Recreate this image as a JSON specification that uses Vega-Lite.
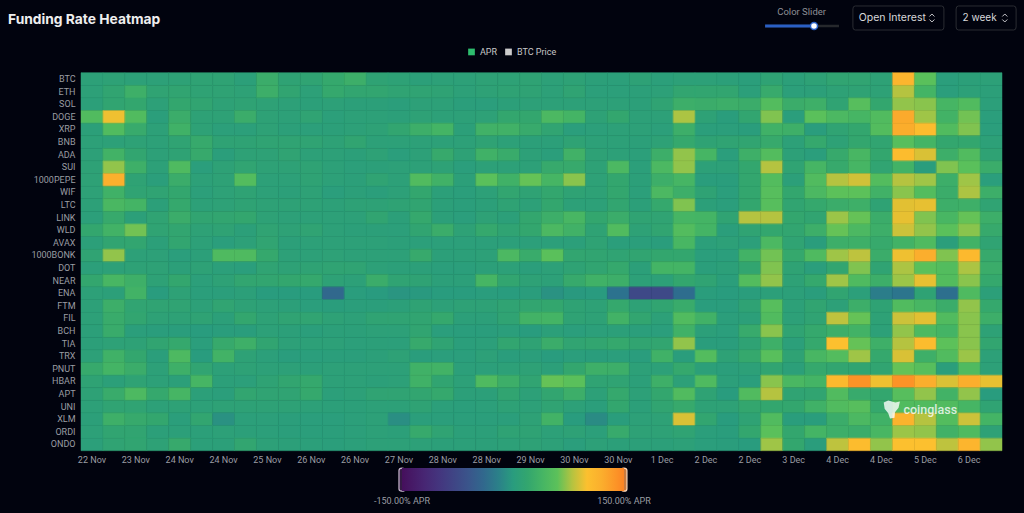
{"$schema":"https://vega.github.io/schema/vega-lite/v6.json","width":921,"height":378,"autosize":{"type":"none"},"padding":{"left":81,"top":72.7,"right":22,"bottom":62.3},"background":"#01030e","title":{"text":"Funding Rate Heatmap","anchor":"start","frame":"group","dx":-73,"offset":-23,"font":"Inter","fontSize":13.8,"fontWeight":700,"color":"#eeeeee"},"config":{"view":{"stroke":null},"font":"Roboto"},
"data":{"values":[
{"t":0,"c":"BTC","v":8},{"t":1,"c":"BTC","v":10},{"t":2,"c":"BTC","v":8},{"t":3,"c":"BTC","v":8},{"t":4,"c":"BTC","v":10},{"t":5,"c":"BTC","v":12},{"t":6,"c":"BTC","v":12},{"t":7,"c":"BTC","v":6},{"t":8,"c":"BTC","v":28},{"t":9,"c":"BTC","v":12},{"t":10,"c":"BTC","v":14},{"t":11,"c":"BTC","v":22},{"t":12,"c":"BTC","v":30},{"t":13,"c":"BTC","v":12},{"t":14,"c":"BTC","v":10},{"t":15,"c":"BTC","v":6},{"t":16,"c":"BTC","v":7},{"t":17,"c":"BTC","v":7},{"t":18,"c":"BTC","v":10},{"t":19,"c":"BTC","v":10},{"t":20,"c":"BTC","v":12},{"t":21,"c":"BTC","v":7},{"t":22,"c":"BTC","v":10},{"t":23,"c":"BTC","v":6},{"t":24,"c":"BTC","v":5},{"t":25,"c":"BTC","v":10},{"t":26,"c":"BTC","v":5},{"t":27,"c":"BTC","v":8},{"t":28,"c":"BTC","v":8},{"t":29,"c":"BTC","v":6},{"t":30,"c":"BTC","v":4},{"t":31,"c":"BTC","v":12},{"t":32,"c":"BTC","v":6},{"t":33,"c":"BTC","v":10},{"t":34,"c":"BTC","v":15},{"t":35,"c":"BTC","v":15},{"t":36,"c":"BTC","v":10},{"t":37,"c":"BTC","v":112},{"t":38,"c":"BTC","v":58},{"t":39,"c":"BTC","v":3},{"t":40,"c":"BTC","v":6},{"t":41,"c":"BTC","v":7},
{"t":0,"c":"ETH","v":7},{"t":1,"c":"ETH","v":16},{"t":2,"c":"ETH","v":32},{"t":3,"c":"ETH","v":14},{"t":4,"c":"ETH","v":16},{"t":5,"c":"ETH","v":12},{"t":6,"c":"ETH","v":12},{"t":7,"c":"ETH","v":10},{"t":8,"c":"ETH","v":30},{"t":9,"c":"ETH","v":16},{"t":10,"c":"ETH","v":8},{"t":11,"c":"ETH","v":22},{"t":12,"c":"ETH","v":18},{"t":13,"c":"ETH","v":18},{"t":14,"c":"ETH","v":14},{"t":15,"c":"ETH","v":14},{"t":16,"c":"ETH","v":12},{"t":17,"c":"ETH","v":8},{"t":18,"c":"ETH","v":10},{"t":19,"c":"ETH","v":12},{"t":20,"c":"ETH","v":12},{"t":21,"c":"ETH","v":7},{"t":22,"c":"ETH","v":14},{"t":23,"c":"ETH","v":5},{"t":24,"c":"ETH","v":5},{"t":25,"c":"ETH","v":6},{"t":26,"c":"ETH","v":8},{"t":27,"c":"ETH","v":17},{"t":28,"c":"ETH","v":18},{"t":29,"c":"ETH","v":18},{"t":30,"c":"ETH","v":5},{"t":31,"c":"ETH","v":25},{"t":32,"c":"ETH","v":5},{"t":33,"c":"ETH","v":6},{"t":34,"c":"ETH","v":10},{"t":35,"c":"ETH","v":12},{"t":36,"c":"ETH","v":10},{"t":37,"c":"ETH","v":80},{"t":38,"c":"ETH","v":38},{"t":39,"c":"ETH","v":3},{"t":40,"c":"ETH","v":8},{"t":41,"c":"ETH","v":6},
{"t":0,"c":"SOL","v":6},{"t":1,"c":"SOL","v":16},{"t":2,"c":"SOL","v":20},{"t":3,"c":"SOL","v":8},{"t":4,"c":"SOL","v":20},{"t":5,"c":"SOL","v":16},{"t":6,"c":"SOL","v":10},{"t":7,"c":"SOL","v":12},{"t":8,"c":"SOL","v":10},{"t":9,"c":"SOL","v":8},{"t":10,"c":"SOL","v":6},{"t":11,"c":"SOL","v":7},{"t":12,"c":"SOL","v":6},{"t":13,"c":"SOL","v":6},{"t":14,"c":"SOL","v":4},{"t":15,"c":"SOL","v":7},{"t":16,"c":"SOL","v":7},{"t":17,"c":"SOL","v":4},{"t":18,"c":"SOL","v":3},{"t":19,"c":"SOL","v":6},{"t":20,"c":"SOL","v":8},{"t":21,"c":"SOL","v":8},{"t":22,"c":"SOL","v":7},{"t":23,"c":"SOL","v":8},{"t":24,"c":"SOL","v":8},{"t":25,"c":"SOL","v":6},{"t":26,"c":"SOL","v":14},{"t":27,"c":"SOL","v":30},{"t":28,"c":"SOL","v":28},{"t":29,"c":"SOL","v":30},{"t":30,"c":"SOL","v":28},{"t":31,"c":"SOL","v":52},{"t":32,"c":"SOL","v":28},{"t":33,"c":"SOL","v":32},{"t":34,"c":"SOL","v":14},{"t":35,"c":"SOL","v":55},{"t":36,"c":"SOL","v":20},{"t":37,"c":"SOL","v":72},{"t":38,"c":"SOL","v":70},{"t":39,"c":"SOL","v":40},{"t":40,"c":"SOL","v":50},{"t":41,"c":"SOL","v":5},
{"t":0,"c":"DOGE","v":50},{"t":1,"c":"DOGE","v":95},{"t":2,"c":"DOGE","v":50},{"t":3,"c":"DOGE","v":4},{"t":4,"c":"DOGE","v":28},{"t":5,"c":"DOGE","v":10},{"t":6,"c":"DOGE","v":10},{"t":7,"c":"DOGE","v":28},{"t":8,"c":"DOGE","v":10},{"t":9,"c":"DOGE","v":8},{"t":10,"c":"DOGE","v":14},{"t":11,"c":"DOGE","v":5},{"t":12,"c":"DOGE","v":8},{"t":13,"c":"DOGE","v":8},{"t":14,"c":"DOGE","v":6},{"t":15,"c":"DOGE","v":10},{"t":16,"c":"DOGE","v":8},{"t":17,"c":"DOGE","v":7},{"t":18,"c":"DOGE","v":9},{"t":19,"c":"DOGE","v":20},{"t":20,"c":"DOGE","v":20},{"t":21,"c":"DOGE","v":45},{"t":22,"c":"DOGE","v":38},{"t":23,"c":"DOGE","v":10},{"t":24,"c":"DOGE","v":20},{"t":25,"c":"DOGE","v":7},{"t":26,"c":"DOGE","v":7},{"t":27,"c":"DOGE","v":78},{"t":28,"c":"DOGE","v":10},{"t":29,"c":"DOGE","v":2},{"t":30,"c":"DOGE","v":18},{"t":31,"c":"DOGE","v":68},{"t":32,"c":"DOGE","v":3},{"t":33,"c":"DOGE","v":58},{"t":34,"c":"DOGE","v":45},{"t":35,"c":"DOGE","v":40},{"t":36,"c":"DOGE","v":50},{"t":37,"c":"DOGE","v":125},{"t":38,"c":"DOGE","v":75},{"t":39,"c":"DOGE","v":36},{"t":40,"c":"DOGE","v":65},{"t":41,"c":"DOGE","v":3},
{"t":0,"c":"XRP","v":6},{"t":1,"c":"XRP","v":50},{"t":2,"c":"XRP","v":25},{"t":3,"c":"XRP","v":7},{"t":4,"c":"XRP","v":34},{"t":5,"c":"XRP","v":10},{"t":6,"c":"XRP","v":5},{"t":7,"c":"XRP","v":5},{"t":8,"c":"XRP","v":10},{"t":9,"c":"XRP","v":6},{"t":10,"c":"XRP","v":5},{"t":11,"c":"XRP","v":6},{"t":12,"c":"XRP","v":8},{"t":13,"c":"XRP","v":10},{"t":14,"c":"XRP","v":18},{"t":15,"c":"XRP","v":30},{"t":16,"c":"XRP","v":38},{"t":17,"c":"XRP","v":6},{"t":18,"c":"XRP","v":35},{"t":19,"c":"XRP","v":35},{"t":20,"c":"XRP","v":25},{"t":21,"c":"XRP","v":15},{"t":22,"c":"XRP","v":3},{"t":23,"c":"XRP","v":5},{"t":24,"c":"XRP","v":7},{"t":25,"c":"XRP","v":7},{"t":26,"c":"XRP","v":5},{"t":27,"c":"XRP","v":30},{"t":28,"c":"XRP","v":4},{"t":29,"c":"XRP","v":4},{"t":30,"c":"XRP","v":2},{"t":31,"c":"XRP","v":34},{"t":32,"c":"XRP","v":32},{"t":33,"c":"XRP","v":1},{"t":34,"c":"XRP","v":14},{"t":35,"c":"XRP","v":20},{"t":36,"c":"XRP","v":52},{"t":37,"c":"XRP","v":122},{"t":38,"c":"XRP","v":105},{"t":39,"c":"XRP","v":50},{"t":40,"c":"XRP","v":68},{"t":41,"c":"XRP","v":3},
{"t":0,"c":"BNB","v":8},{"t":1,"c":"BNB","v":8},{"t":2,"c":"BNB","v":10},{"t":3,"c":"BNB","v":8},{"t":4,"c":"BNB","v":14},{"t":5,"c":"BNB","v":24},{"t":6,"c":"BNB","v":12},{"t":7,"c":"BNB","v":12},{"t":8,"c":"BNB","v":14},{"t":9,"c":"BNB","v":14},{"t":10,"c":"BNB","v":14},{"t":11,"c":"BNB","v":10},{"t":12,"c":"BNB","v":16},{"t":13,"c":"BNB","v":8},{"t":14,"c":"BNB","v":7},{"t":15,"c":"BNB","v":7},{"t":16,"c":"BNB","v":7},{"t":17,"c":"BNB","v":7},{"t":18,"c":"BNB","v":12},{"t":19,"c":"BNB","v":7},{"t":20,"c":"BNB","v":6},{"t":21,"c":"BNB","v":6},{"t":22,"c":"BNB","v":12},{"t":23,"c":"BNB","v":7},{"t":24,"c":"BNB","v":7},{"t":25,"c":"BNB","v":6},{"t":26,"c":"BNB","v":10},{"t":27,"c":"BNB","v":22},{"t":28,"c":"BNB","v":12},{"t":29,"c":"BNB","v":14},{"t":30,"c":"BNB","v":16},{"t":31,"c":"BNB","v":24},{"t":32,"c":"BNB","v":8},{"t":33,"c":"BNB","v":22},{"t":34,"c":"BNB","v":10},{"t":35,"c":"BNB","v":20},{"t":36,"c":"BNB","v":16},{"t":37,"c":"BNB","v":55},{"t":38,"c":"BNB","v":38},{"t":39,"c":"BNB","v":20},{"t":40,"c":"BNB","v":20},{"t":41,"c":"BNB","v":7},
{"t":0,"c":"ADA","v":8},{"t":1,"c":"ADA","v":36},{"t":2,"c":"ADA","v":18},{"t":3,"c":"ADA","v":8},{"t":4,"c":"ADA","v":12},{"t":5,"c":"ADA","v":24},{"t":6,"c":"ADA","v":4},{"t":7,"c":"ADA","v":10},{"t":8,"c":"ADA","v":10},{"t":9,"c":"ADA","v":14},{"t":10,"c":"ADA","v":7},{"t":11,"c":"ADA","v":8},{"t":12,"c":"ADA","v":6},{"t":13,"c":"ADA","v":10},{"t":14,"c":"ADA","v":3},{"t":15,"c":"ADA","v":8},{"t":16,"c":"ADA","v":24},{"t":17,"c":"ADA","v":10},{"t":18,"c":"ADA","v":34},{"t":19,"c":"ADA","v":26},{"t":20,"c":"ADA","v":7},{"t":21,"c":"ADA","v":4},{"t":22,"c":"ADA","v":35},{"t":23,"c":"ADA","v":10},{"t":24,"c":"ADA","v":8},{"t":25,"c":"ADA","v":5},{"t":26,"c":"ADA","v":30},{"t":27,"c":"ADA","v":72},{"t":28,"c":"ADA","v":40},{"t":29,"c":"ADA","v":3},{"t":30,"c":"ADA","v":32},{"t":31,"c":"ADA","v":52},{"t":32,"c":"ADA","v":8},{"t":33,"c":"ADA","v":3},{"t":34,"c":"ADA","v":24},{"t":35,"c":"ADA","v":42},{"t":36,"c":"ADA","v":20},{"t":37,"c":"ADA","v":105},{"t":38,"c":"ADA","v":88},{"t":39,"c":"ADA","v":30},{"t":40,"c":"ADA","v":50},{"t":41,"c":"ADA","v":12},
{"t":0,"c":"SUI","v":10},{"t":1,"c":"SUI","v":72},{"t":2,"c":"SUI","v":32},{"t":3,"c":"SUI","v":8},{"t":4,"c":"SUI","v":48},{"t":5,"c":"SUI","v":3},{"t":6,"c":"SUI","v":10},{"t":7,"c":"SUI","v":15},{"t":8,"c":"SUI","v":10},{"t":9,"c":"SUI","v":10},{"t":10,"c":"SUI","v":12},{"t":11,"c":"SUI","v":8},{"t":12,"c":"SUI","v":5},{"t":13,"c":"SUI","v":6},{"t":14,"c":"SUI","v":7},{"t":15,"c":"SUI","v":8},{"t":16,"c":"SUI","v":10},{"t":17,"c":"SUI","v":3},{"t":18,"c":"SUI","v":7},{"t":19,"c":"SUI","v":7},{"t":20,"c":"SUI","v":7},{"t":21,"c":"SUI","v":24},{"t":22,"c":"SUI","v":24},{"t":23,"c":"SUI","v":10},{"t":24,"c":"SUI","v":45},{"t":25,"c":"SUI","v":5},{"t":26,"c":"SUI","v":45},{"t":27,"c":"SUI","v":72},{"t":28,"c":"SUI","v":7},{"t":29,"c":"SUI","v":7},{"t":30,"c":"SUI","v":20},{"t":31,"c":"SUI","v":80},{"t":32,"c":"SUI","v":14},{"t":33,"c":"SUI","v":40},{"t":34,"c":"SUI","v":24},{"t":35,"c":"SUI","v":40},{"t":36,"c":"SUI","v":15},{"t":37,"c":"SUI","v":36},{"t":38,"c":"SUI","v":1},{"t":39,"c":"SUI","v":68},{"t":40,"c":"SUI","v":58},{"t":41,"c":"SUI","v":28},
{"t":0,"c":"1000PEPE","v":10},{"t":1,"c":"1000PEPE","v":118},{"t":2,"c":"1000PEPE","v":12},{"t":3,"c":"1000PEPE","v":4},{"t":4,"c":"1000PEPE","v":28},{"t":5,"c":"1000PEPE","v":8},{"t":6,"c":"1000PEPE","v":10},{"t":7,"c":"1000PEPE","v":52},{"t":8,"c":"1000PEPE","v":8},{"t":9,"c":"1000PEPE","v":7},{"t":10,"c":"1000PEPE","v":12},{"t":11,"c":"1000PEPE","v":7},{"t":12,"c":"1000PEPE","v":6},{"t":13,"c":"1000PEPE","v":14},{"t":14,"c":"1000PEPE","v":8},{"t":15,"c":"1000PEPE","v":50},{"t":16,"c":"1000PEPE","v":35},{"t":17,"c":"1000PEPE","v":6},{"t":18,"c":"1000PEPE","v":58},{"t":19,"c":"1000PEPE","v":34},{"t":20,"c":"1000PEPE","v":62},{"t":21,"c":"1000PEPE","v":40},{"t":22,"c":"1000PEPE","v":70},{"t":23,"c":"1000PEPE","v":9},{"t":24,"c":"1000PEPE","v":20},{"t":25,"c":"1000PEPE","v":6},{"t":26,"c":"1000PEPE","v":30},{"t":27,"c":"1000PEPE","v":40},{"t":28,"c":"1000PEPE","v":2},{"t":29,"c":"1000PEPE","v":2},{"t":30,"c":"1000PEPE","v":20},{"t":31,"c":"1000PEPE","v":52},{"t":32,"c":"1000PEPE","v":6},{"t":33,"c":"1000PEPE","v":50},{"t":34,"c":"1000PEPE","v":80},{"t":35,"c":"1000PEPE","v":86},{"t":36,"c":"1000PEPE","v":52},{"t":37,"c":"1000PEPE","v":80},{"t":38,"c":"1000PEPE","v":75},{"t":39,"c":"1000PEPE","v":30},{"t":40,"c":"1000PEPE","v":75},{"t":41,"c":"1000PEPE","v":3},
{"t":0,"c":"WIF","v":9},{"t":1,"c":"WIF","v":34},{"t":2,"c":"WIF","v":14},{"t":3,"c":"WIF","v":14},{"t":4,"c":"WIF","v":20},{"t":5,"c":"WIF","v":5},{"t":6,"c":"WIF","v":9},{"t":7,"c":"WIF","v":12},{"t":8,"c":"WIF","v":8},{"t":9,"c":"WIF","v":6},{"t":10,"c":"WIF","v":10},{"t":11,"c":"WIF","v":3},{"t":12,"c":"WIF","v":6},{"t":13,"c":"WIF","v":4},{"t":14,"c":"WIF","v":8},{"t":15,"c":"WIF","v":20},{"t":16,"c":"WIF","v":6},{"t":17,"c":"WIF","v":4},{"t":18,"c":"WIF","v":8},{"t":19,"c":"WIF","v":18},{"t":20,"c":"WIF","v":12},{"t":21,"c":"WIF","v":20},{"t":22,"c":"WIF","v":12},{"t":23,"c":"WIF","v":10},{"t":24,"c":"WIF","v":20},{"t":25,"c":"WIF","v":5},{"t":26,"c":"WIF","v":45},{"t":27,"c":"WIF","v":30},{"t":28,"c":"WIF","v":12},{"t":29,"c":"WIF","v":3},{"t":30,"c":"WIF","v":20},{"t":31,"c":"WIF","v":55},{"t":32,"c":"WIF","v":20},{"t":33,"c":"WIF","v":45},{"t":34,"c":"WIF","v":60},{"t":35,"c":"WIF","v":60},{"t":36,"c":"WIF","v":35},{"t":37,"c":"WIF","v":70},{"t":38,"c":"WIF","v":52},{"t":39,"c":"WIF","v":28},{"t":40,"c":"WIF","v":78},{"t":41,"c":"WIF","v":30},
{"t":0,"c":"LTC","v":8},{"t":1,"c":"LTC","v":44},{"t":2,"c":"LTC","v":38},{"t":3,"c":"LTC","v":6},{"t":4,"c":"LTC","v":22},{"t":5,"c":"LTC","v":8},{"t":6,"c":"LTC","v":9},{"t":7,"c":"LTC","v":12},{"t":8,"c":"LTC","v":10},{"t":9,"c":"LTC","v":10},{"t":10,"c":"LTC","v":10},{"t":11,"c":"LTC","v":8},{"t":12,"c":"LTC","v":10},{"t":13,"c":"LTC","v":10},{"t":14,"c":"LTC","v":12},{"t":15,"c":"LTC","v":16},{"t":16,"c":"LTC","v":6},{"t":17,"c":"LTC","v":4},{"t":18,"c":"LTC","v":6},{"t":19,"c":"LTC","v":12},{"t":20,"c":"LTC","v":8},{"t":21,"c":"LTC","v":20},{"t":22,"c":"LTC","v":8},{"t":23,"c":"LTC","v":7},{"t":24,"c":"LTC","v":18},{"t":25,"c":"LTC","v":6},{"t":26,"c":"LTC","v":22},{"t":27,"c":"LTC","v":68},{"t":28,"c":"LTC","v":6},{"t":29,"c":"LTC","v":3},{"t":30,"c":"LTC","v":20},{"t":31,"c":"LTC","v":55},{"t":32,"c":"LTC","v":16},{"t":33,"c":"LTC","v":22},{"t":34,"c":"LTC","v":28},{"t":35,"c":"LTC","v":32},{"t":36,"c":"LTC","v":12},{"t":37,"c":"LTC","v":90},{"t":38,"c":"LTC","v":92},{"t":39,"c":"LTC","v":30},{"t":40,"c":"LTC","v":32},{"t":41,"c":"LTC","v":14},
{"t":0,"c":"LINK","v":5},{"t":1,"c":"LINK","v":24},{"t":2,"c":"LINK","v":6},{"t":3,"c":"LINK","v":14},{"t":4,"c":"LINK","v":28},{"t":5,"c":"LINK","v":16},{"t":6,"c":"LINK","v":18},{"t":7,"c":"LINK","v":20},{"t":8,"c":"LINK","v":10},{"t":9,"c":"LINK","v":8},{"t":10,"c":"LINK","v":8},{"t":11,"c":"LINK","v":8},{"t":12,"c":"LINK","v":8},{"t":13,"c":"LINK","v":16},{"t":14,"c":"LINK","v":6},{"t":15,"c":"LINK","v":22},{"t":16,"c":"LINK","v":6},{"t":17,"c":"LINK","v":3},{"t":18,"c":"LINK","v":10},{"t":19,"c":"LINK","v":6},{"t":20,"c":"LINK","v":20},{"t":21,"c":"LINK","v":30},{"t":22,"c":"LINK","v":42},{"t":23,"c":"LINK","v":20},{"t":24,"c":"LINK","v":28},{"t":25,"c":"LINK","v":14},{"t":26,"c":"LINK","v":14},{"t":27,"c":"LINK","v":40},{"t":28,"c":"LINK","v":38},{"t":29,"c":"LINK","v":14},{"t":30,"c":"LINK","v":80},{"t":31,"c":"LINK","v":80},{"t":32,"c":"LINK","v":20},{"t":33,"c":"LINK","v":16},{"t":34,"c":"LINK","v":74},{"t":35,"c":"LINK","v":62},{"t":36,"c":"LINK","v":28},{"t":37,"c":"LINK","v":92},{"t":38,"c":"LINK","v":68},{"t":39,"c":"LINK","v":42},{"t":40,"c":"LINK","v":62},{"t":41,"c":"LINK","v":30},
{"t":0,"c":"WLD","v":20},{"t":1,"c":"WLD","v":36},{"t":2,"c":"WLD","v":65},{"t":3,"c":"WLD","v":14},{"t":4,"c":"WLD","v":18},{"t":5,"c":"WLD","v":10},{"t":6,"c":"WLD","v":12},{"t":7,"c":"WLD","v":6},{"t":8,"c":"WLD","v":14},{"t":9,"c":"WLD","v":10},{"t":10,"c":"WLD","v":14},{"t":11,"c":"WLD","v":7},{"t":12,"c":"WLD","v":6},{"t":13,"c":"WLD","v":6},{"t":14,"c":"WLD","v":5},{"t":15,"c":"WLD","v":16},{"t":16,"c":"WLD","v":28},{"t":17,"c":"WLD","v":10},{"t":18,"c":"WLD","v":22},{"t":19,"c":"WLD","v":14},{"t":20,"c":"WLD","v":20},{"t":21,"c":"WLD","v":45},{"t":22,"c":"WLD","v":35},{"t":23,"c":"WLD","v":12},{"t":24,"c":"WLD","v":50},{"t":25,"c":"WLD","v":10},{"t":26,"c":"WLD","v":16},{"t":27,"c":"WLD","v":52},{"t":28,"c":"WLD","v":38},{"t":29,"c":"WLD","v":4},{"t":30,"c":"WLD","v":14},{"t":31,"c":"WLD","v":20},{"t":32,"c":"WLD","v":18},{"t":33,"c":"WLD","v":30},{"t":34,"c":"WLD","v":62},{"t":35,"c":"WLD","v":45},{"t":36,"c":"WLD","v":30},{"t":37,"c":"WLD","v":85},{"t":38,"c":"WLD","v":72},{"t":39,"c":"WLD","v":58},{"t":40,"c":"WLD","v":70},{"t":41,"c":"WLD","v":24},
{"t":0,"c":"AVAX","v":6},{"t":1,"c":"AVAX","v":16},{"t":2,"c":"AVAX","v":18},{"t":3,"c":"AVAX","v":6},{"t":4,"c":"AVAX","v":18},{"t":5,"c":"AVAX","v":7},{"t":6,"c":"AVAX","v":3},{"t":7,"c":"AVAX","v":7},{"t":8,"c":"AVAX","v":15},{"t":9,"c":"AVAX","v":6},{"t":10,"c":"AVAX","v":8},{"t":11,"c":"AVAX","v":8},{"t":12,"c":"AVAX","v":8},{"t":13,"c":"AVAX","v":7},{"t":14,"c":"AVAX","v":6},{"t":15,"c":"AVAX","v":5},{"t":16,"c":"AVAX","v":5},{"t":17,"c":"AVAX","v":5},{"t":18,"c":"AVAX","v":5},{"t":19,"c":"AVAX","v":5},{"t":20,"c":"AVAX","v":5},{"t":21,"c":"AVAX","v":5},{"t":22,"c":"AVAX","v":5},{"t":23,"c":"AVAX","v":12},{"t":24,"c":"AVAX","v":4},{"t":25,"c":"AVAX","v":4},{"t":26,"c":"AVAX","v":2},{"t":27,"c":"AVAX","v":42},{"t":28,"c":"AVAX","v":5},{"t":29,"c":"AVAX","v":8},{"t":30,"c":"AVAX","v":5},{"t":31,"c":"AVAX","v":45},{"t":32,"c":"AVAX","v":14},{"t":33,"c":"AVAX","v":2},{"t":34,"c":"AVAX","v":30},{"t":35,"c":"AVAX","v":32},{"t":36,"c":"AVAX","v":24},{"t":37,"c":"AVAX","v":36},{"t":38,"c":"AVAX","v":48},{"t":39,"c":"AVAX","v":4},{"t":40,"c":"AVAX","v":36},{"t":41,"c":"AVAX","v":14},
{"t":0,"c":"1000BONK","v":14},{"t":1,"c":"1000BONK","v":72},{"t":2,"c":"1000BONK","v":7},{"t":3,"c":"1000BONK","v":7},{"t":4,"c":"1000BONK","v":3},{"t":5,"c":"1000BONK","v":6},{"t":6,"c":"1000BONK","v":48},{"t":7,"c":"1000BONK","v":48},{"t":8,"c":"1000BONK","v":22},{"t":9,"c":"1000BONK","v":8},{"t":10,"c":"1000BONK","v":8},{"t":11,"c":"1000BONK","v":9},{"t":12,"c":"1000BONK","v":8},{"t":13,"c":"1000BONK","v":7},{"t":14,"c":"1000BONK","v":8},{"t":15,"c":"1000BONK","v":24},{"t":16,"c":"1000BONK","v":6},{"t":17,"c":"1000BONK","v":6},{"t":18,"c":"1000BONK","v":8},{"t":19,"c":"1000BONK","v":45},{"t":20,"c":"1000BONK","v":26},{"t":21,"c":"1000BONK","v":58},{"t":22,"c":"1000BONK","v":18},{"t":23,"c":"1000BONK","v":16},{"t":24,"c":"1000BONK","v":14},{"t":25,"c":"1000BONK","v":16},{"t":26,"c":"1000BONK","v":20},{"t":27,"c":"1000BONK","v":20},{"t":28,"c":"1000BONK","v":3},{"t":29,"c":"1000BONK","v":3},{"t":30,"c":"1000BONK","v":36},{"t":31,"c":"1000BONK","v":65},{"t":32,"c":"1000BONK","v":22},{"t":33,"c":"1000BONK","v":48},{"t":34,"c":"1000BONK","v":75},{"t":35,"c":"1000BONK","v":82},{"t":36,"c":"1000BONK","v":28},{"t":37,"c":"1000BONK","v":95},{"t":38,"c":"1000BONK","v":120},{"t":39,"c":"1000BONK","v":68},{"t":40,"c":"1000BONK","v":108},{"t":41,"c":"1000BONK","v":24},
{"t":0,"c":"DOT","v":5},{"t":1,"c":"DOT","v":8},{"t":2,"c":"DOT","v":10},{"t":3,"c":"DOT","v":10},{"t":4,"c":"DOT","v":6},{"t":5,"c":"DOT","v":10},{"t":6,"c":"DOT","v":5},{"t":7,"c":"DOT","v":3},{"t":8,"c":"DOT","v":14},{"t":9,"c":"DOT","v":10},{"t":10,"c":"DOT","v":12},{"t":11,"c":"DOT","v":14},{"t":12,"c":"DOT","v":14},{"t":13,"c":"DOT","v":8},{"t":14,"c":"DOT","v":6},{"t":15,"c":"DOT","v":6},{"t":16,"c":"DOT","v":4},{"t":17,"c":"DOT","v":4},{"t":18,"c":"DOT","v":6},{"t":19,"c":"DOT","v":8},{"t":20,"c":"DOT","v":4},{"t":21,"c":"DOT","v":8},{"t":22,"c":"DOT","v":12},{"t":23,"c":"DOT","v":16},{"t":24,"c":"DOT","v":22},{"t":25,"c":"DOT","v":6},{"t":26,"c":"DOT","v":38},{"t":27,"c":"DOT","v":38},{"t":28,"c":"DOT","v":4},{"t":29,"c":"DOT","v":6},{"t":30,"c":"DOT","v":18},{"t":31,"c":"DOT","v":68},{"t":32,"c":"DOT","v":12},{"t":33,"c":"DOT","v":3},{"t":34,"c":"DOT","v":18},{"t":35,"c":"DOT","v":68},{"t":36,"c":"DOT","v":14},{"t":37,"c":"DOT","v":78},{"t":38,"c":"DOT","v":58},{"t":39,"c":"DOT","v":52},{"t":40,"c":"DOT","v":78},{"t":41,"c":"DOT","v":28},
{"t":0,"c":"NEAR","v":20},{"t":1,"c":"NEAR","v":42},{"t":2,"c":"NEAR","v":32},{"t":3,"c":"NEAR","v":10},{"t":4,"c":"NEAR","v":20},{"t":5,"c":"NEAR","v":5},{"t":6,"c":"NEAR","v":10},{"t":7,"c":"NEAR","v":18},{"t":8,"c":"NEAR","v":18},{"t":9,"c":"NEAR","v":20},{"t":10,"c":"NEAR","v":22},{"t":11,"c":"NEAR","v":10},{"t":12,"c":"NEAR","v":8},{"t":13,"c":"NEAR","v":28},{"t":14,"c":"NEAR","v":14},{"t":15,"c":"NEAR","v":12},{"t":16,"c":"NEAR","v":6},{"t":17,"c":"NEAR","v":6},{"t":18,"c":"NEAR","v":40},{"t":19,"c":"NEAR","v":18},{"t":20,"c":"NEAR","v":10},{"t":21,"c":"NEAR","v":8},{"t":22,"c":"NEAR","v":24},{"t":23,"c":"NEAR","v":34},{"t":24,"c":"NEAR","v":30},{"t":25,"c":"NEAR","v":8},{"t":26,"c":"NEAR","v":8},{"t":27,"c":"NEAR","v":20},{"t":28,"c":"NEAR","v":14},{"t":29,"c":"NEAR","v":4},{"t":30,"c":"NEAR","v":52},{"t":31,"c":"NEAR","v":72},{"t":32,"c":"NEAR","v":10},{"t":33,"c":"NEAR","v":22},{"t":34,"c":"NEAR","v":75},{"t":35,"c":"NEAR","v":48},{"t":36,"c":"NEAR","v":30},{"t":37,"c":"NEAR","v":74},{"t":38,"c":"NEAR","v":92},{"t":39,"c":"NEAR","v":52},{"t":40,"c":"NEAR","v":70},{"t":41,"c":"NEAR","v":22},
{"t":0,"c":"ENA","v":8},{"t":1,"c":"ENA","v":6},{"t":2,"c":"ENA","v":36},{"t":3,"c":"ENA","v":0},{"t":4,"c":"ENA","v":10},{"t":5,"c":"ENA","v":4},{"t":6,"c":"ENA","v":4},{"t":7,"c":"ENA","v":6},{"t":8,"c":"ENA","v":0},{"t":9,"c":"ENA","v":0},{"t":10,"c":"ENA","v":0},{"t":11,"c":"ENA","v":-40},{"t":12,"c":"ENA","v":1},{"t":13,"c":"ENA","v":-1},{"t":14,"c":"ENA","v":-5},{"t":15,"c":"ENA","v":-2},{"t":16,"c":"ENA","v":0},{"t":17,"c":"ENA","v":0},{"t":18,"c":"ENA","v":1},{"t":19,"c":"ENA","v":0},{"t":20,"c":"ENA","v":2},{"t":21,"c":"ENA","v":-7},{"t":22,"c":"ENA","v":-2},{"t":23,"c":"ENA","v":-1},{"t":24,"c":"ENA","v":-30},{"t":25,"c":"ENA","v":-75},{"t":26,"c":"ENA","v":-75},{"t":27,"c":"ENA","v":-35},{"t":28,"c":"ENA","v":2},{"t":29,"c":"ENA","v":0},{"t":30,"c":"ENA","v":2},{"t":31,"c":"ENA","v":6},{"t":32,"c":"ENA","v":6},{"t":33,"c":"ENA","v":2},{"t":34,"c":"ENA","v":16},{"t":35,"c":"ENA","v":5},{"t":36,"c":"ENA","v":-22},{"t":37,"c":"ENA","v":-28},{"t":38,"c":"ENA","v":12},{"t":39,"c":"ENA","v":-33},{"t":40,"c":"ENA","v":48},{"t":41,"c":"ENA","v":6},
{"t":0,"c":"FTM","v":7},{"t":1,"c":"FTM","v":30},{"t":2,"c":"FTM","v":15},{"t":3,"c":"FTM","v":14},{"t":4,"c":"FTM","v":14},{"t":5,"c":"FTM","v":8},{"t":6,"c":"FTM","v":15},{"t":7,"c":"FTM","v":10},{"t":8,"c":"FTM","v":8},{"t":9,"c":"FTM","v":6},{"t":10,"c":"FTM","v":3},{"t":11,"c":"FTM","v":2},{"t":12,"c":"FTM","v":4},{"t":13,"c":"FTM","v":4},{"t":14,"c":"FTM","v":6},{"t":15,"c":"FTM","v":12},{"t":16,"c":"FTM","v":8},{"t":17,"c":"FTM","v":10},{"t":18,"c":"FTM","v":10},{"t":19,"c":"FTM","v":14},{"t":20,"c":"FTM","v":18},{"t":21,"c":"FTM","v":20},{"t":22,"c":"FTM","v":12},{"t":23,"c":"FTM","v":10},{"t":24,"c":"FTM","v":22},{"t":25,"c":"FTM","v":10},{"t":26,"c":"FTM","v":16},{"t":27,"c":"FTM","v":26},{"t":28,"c":"FTM","v":1},{"t":29,"c":"FTM","v":1},{"t":30,"c":"FTM","v":12},{"t":31,"c":"FTM","v":55},{"t":32,"c":"FTM","v":8},{"t":33,"c":"FTM","v":16},{"t":34,"c":"FTM","v":8},{"t":35,"c":"FTM","v":30},{"t":36,"c":"FTM","v":12},{"t":37,"c":"FTM","v":50},{"t":38,"c":"FTM","v":42},{"t":39,"c":"FTM","v":28},{"t":40,"c":"FTM","v":72},{"t":41,"c":"FTM","v":22},
{"t":0,"c":"FIL","v":7},{"t":1,"c":"FIL","v":26},{"t":2,"c":"FIL","v":18},{"t":3,"c":"FIL","v":10},{"t":4,"c":"FIL","v":10},{"t":5,"c":"FIL","v":12},{"t":6,"c":"FIL","v":6},{"t":7,"c":"FIL","v":20},{"t":8,"c":"FIL","v":10},{"t":9,"c":"FIL","v":14},{"t":10,"c":"FIL","v":15},{"t":11,"c":"FIL","v":10},{"t":12,"c":"FIL","v":8},{"t":13,"c":"FIL","v":14},{"t":14,"c":"FIL","v":14},{"t":15,"c":"FIL","v":16},{"t":16,"c":"FIL","v":22},{"t":17,"c":"FIL","v":6},{"t":18,"c":"FIL","v":6},{"t":19,"c":"FIL","v":14},{"t":20,"c":"FIL","v":36},{"t":21,"c":"FIL","v":38},{"t":22,"c":"FIL","v":12},{"t":23,"c":"FIL","v":10},{"t":24,"c":"FIL","v":36},{"t":25,"c":"FIL","v":18},{"t":26,"c":"FIL","v":8},{"t":27,"c":"FIL","v":50},{"t":28,"c":"FIL","v":35},{"t":29,"c":"FIL","v":4},{"t":30,"c":"FIL","v":6},{"t":31,"c":"FIL","v":50},{"t":32,"c":"FIL","v":8},{"t":33,"c":"FIL","v":14},{"t":34,"c":"FIL","v":82},{"t":35,"c":"FIL","v":62},{"t":36,"c":"FIL","v":10},{"t":37,"c":"FIL","v":85},{"t":38,"c":"FIL","v":90},{"t":39,"c":"FIL","v":50},{"t":40,"c":"FIL","v":70},{"t":41,"c":"FIL","v":30},
{"t":0,"c":"BCH","v":6},{"t":1,"c":"BCH","v":26},{"t":2,"c":"BCH","v":4},{"t":3,"c":"BCH","v":2},{"t":4,"c":"BCH","v":2},{"t":5,"c":"BCH","v":0},{"t":6,"c":"BCH","v":2},{"t":7,"c":"BCH","v":2},{"t":8,"c":"BCH","v":8},{"t":9,"c":"BCH","v":6},{"t":10,"c":"BCH","v":4},{"t":11,"c":"BCH","v":6},{"t":12,"c":"BCH","v":6},{"t":13,"c":"BCH","v":8},{"t":14,"c":"BCH","v":8},{"t":15,"c":"BCH","v":16},{"t":16,"c":"BCH","v":3},{"t":17,"c":"BCH","v":2},{"t":18,"c":"BCH","v":2},{"t":19,"c":"BCH","v":4},{"t":20,"c":"BCH","v":0},{"t":21,"c":"BCH","v":6},{"t":22,"c":"BCH","v":3},{"t":23,"c":"BCH","v":5},{"t":24,"c":"BCH","v":6},{"t":25,"c":"BCH","v":4},{"t":26,"c":"BCH","v":3},{"t":27,"c":"BCH","v":34},{"t":28,"c":"BCH","v":6},{"t":29,"c":"BCH","v":3},{"t":30,"c":"BCH","v":25},{"t":31,"c":"BCH","v":70},{"t":32,"c":"BCH","v":14},{"t":33,"c":"BCH","v":22},{"t":34,"c":"BCH","v":30},{"t":35,"c":"BCH","v":36},{"t":36,"c":"BCH","v":8},{"t":37,"c":"BCH","v":72},{"t":38,"c":"BCH","v":46},{"t":39,"c":"BCH","v":38},{"t":40,"c":"BCH","v":70},{"t":41,"c":"BCH","v":10},
{"t":0,"c":"TIA","v":6},{"t":1,"c":"TIA","v":9},{"t":2,"c":"TIA","v":10},{"t":3,"c":"TIA","v":16},{"t":4,"c":"TIA","v":22},{"t":5,"c":"TIA","v":3},{"t":6,"c":"TIA","v":24},{"t":7,"c":"TIA","v":32},{"t":8,"c":"TIA","v":16},{"t":9,"c":"TIA","v":7},{"t":10,"c":"TIA","v":8},{"t":11,"c":"TIA","v":8},{"t":12,"c":"TIA","v":5},{"t":13,"c":"TIA","v":6},{"t":14,"c":"TIA","v":5},{"t":15,"c":"TIA","v":24},{"t":16,"c":"TIA","v":14},{"t":17,"c":"TIA","v":4},{"t":18,"c":"TIA","v":5},{"t":19,"c":"TIA","v":18},{"t":20,"c":"TIA","v":12},{"t":21,"c":"TIA","v":28},{"t":22,"c":"TIA","v":15},{"t":23,"c":"TIA","v":18},{"t":24,"c":"TIA","v":22},{"t":25,"c":"TIA","v":16},{"t":26,"c":"TIA","v":18},{"t":27,"c":"TIA","v":72},{"t":28,"c":"TIA","v":2},{"t":29,"c":"TIA","v":2},{"t":30,"c":"TIA","v":12},{"t":31,"c":"TIA","v":32},{"t":32,"c":"TIA","v":5},{"t":33,"c":"TIA","v":22},{"t":34,"c":"TIA","v":100},{"t":35,"c":"TIA","v":62},{"t":36,"c":"TIA","v":32},{"t":37,"c":"TIA","v":80},{"t":38,"c":"TIA","v":105},{"t":39,"c":"TIA","v":60},{"t":40,"c":"TIA","v":70},{"t":41,"c":"TIA","v":18},
{"t":0,"c":"TRX","v":7},{"t":1,"c":"TRX","v":34},{"t":2,"c":"TRX","v":20},{"t":3,"c":"TRX","v":4},{"t":4,"c":"TRX","v":46},{"t":5,"c":"TRX","v":0},{"t":6,"c":"TRX","v":36},{"t":7,"c":"TRX","v":10},{"t":8,"c":"TRX","v":5},{"t":9,"c":"TRX","v":1},{"t":10,"c":"TRX","v":3},{"t":11,"c":"TRX","v":4},{"t":12,"c":"TRX","v":4},{"t":13,"c":"TRX","v":6},{"t":14,"c":"TRX","v":10},{"t":15,"c":"TRX","v":2},{"t":16,"c":"TRX","v":3},{"t":17,"c":"TRX","v":3},{"t":18,"c":"TRX","v":8},{"t":19,"c":"TRX","v":2},{"t":20,"c":"TRX","v":4},{"t":21,"c":"TRX","v":0},{"t":22,"c":"TRX","v":3},{"t":23,"c":"TRX","v":2},{"t":24,"c":"TRX","v":3},{"t":25,"c":"TRX","v":1},{"t":26,"c":"TRX","v":34},{"t":27,"c":"TRX","v":2},{"t":28,"c":"TRX","v":52},{"t":29,"c":"TRX","v":10},{"t":30,"c":"TRX","v":22},{"t":31,"c":"TRX","v":56},{"t":32,"c":"TRX","v":12},{"t":33,"c":"TRX","v":42},{"t":34,"c":"TRX","v":52},{"t":35,"c":"TRX","v":75},{"t":36,"c":"TRX","v":22},{"t":37,"c":"TRX","v":88},{"t":38,"c":"TRX","v":32},{"t":39,"c":"TRX","v":50},{"t":40,"c":"TRX","v":74},{"t":41,"c":"TRX","v":8},
{"t":0,"c":"PNUT","v":24},{"t":1,"c":"PNUT","v":38},{"t":2,"c":"PNUT","v":28},{"t":3,"c":"PNUT","v":8},{"t":4,"c":"PNUT","v":32},{"t":5,"c":"PNUT","v":15},{"t":6,"c":"PNUT","v":8},{"t":7,"c":"PNUT","v":10},{"t":8,"c":"PNUT","v":8},{"t":9,"c":"PNUT","v":8},{"t":10,"c":"PNUT","v":6},{"t":11,"c":"PNUT","v":8},{"t":12,"c":"PNUT","v":8},{"t":13,"c":"PNUT","v":8},{"t":14,"c":"PNUT","v":8},{"t":15,"c":"PNUT","v":34},{"t":16,"c":"PNUT","v":36},{"t":17,"c":"PNUT","v":5},{"t":18,"c":"PNUT","v":5},{"t":19,"c":"PNUT","v":8},{"t":20,"c":"PNUT","v":10},{"t":21,"c":"PNUT","v":6},{"t":22,"c":"PNUT","v":20},{"t":23,"c":"PNUT","v":32},{"t":24,"c":"PNUT","v":30},{"t":25,"c":"PNUT","v":8},{"t":26,"c":"PNUT","v":8},{"t":27,"c":"PNUT","v":22},{"t":28,"c":"PNUT","v":6},{"t":29,"c":"PNUT","v":4},{"t":30,"c":"PNUT","v":8},{"t":31,"c":"PNUT","v":16},{"t":32,"c":"PNUT","v":6},{"t":33,"c":"PNUT","v":22},{"t":34,"c":"PNUT","v":18},{"t":35,"c":"PNUT","v":16},{"t":36,"c":"PNUT","v":16},{"t":37,"c":"PNUT","v":62},{"t":38,"c":"PNUT","v":55},{"t":39,"c":"PNUT","v":4},{"t":40,"c":"PNUT","v":48},{"t":41,"c":"PNUT","v":8},
{"t":0,"c":"HBAR","v":12},{"t":1,"c":"HBAR","v":6},{"t":2,"c":"HBAR","v":12},{"t":3,"c":"HBAR","v":8},{"t":4,"c":"HBAR","v":6},{"t":5,"c":"HBAR","v":40},{"t":6,"c":"HBAR","v":6},{"t":7,"c":"HBAR","v":5},{"t":8,"c":"HBAR","v":12},{"t":9,"c":"HBAR","v":18},{"t":10,"c":"HBAR","v":22},{"t":11,"c":"HBAR","v":8},{"t":12,"c":"HBAR","v":8},{"t":13,"c":"HBAR","v":6},{"t":14,"c":"HBAR","v":7},{"t":15,"c":"HBAR","v":34},{"t":16,"c":"HBAR","v":16},{"t":17,"c":"HBAR","v":8},{"t":18,"c":"HBAR","v":48},{"t":19,"c":"HBAR","v":30},{"t":20,"c":"HBAR","v":15},{"t":21,"c":"HBAR","v":62},{"t":22,"c":"HBAR","v":58},{"t":23,"c":"HBAR","v":14},{"t":24,"c":"HBAR","v":14},{"t":25,"c":"HBAR","v":6},{"t":26,"c":"HBAR","v":32},{"t":27,"c":"HBAR","v":8},{"t":28,"c":"HBAR","v":48},{"t":29,"c":"HBAR","v":5},{"t":30,"c":"HBAR","v":3},{"t":31,"c":"HBAR","v":70},{"t":32,"c":"HBAR","v":44},{"t":33,"c":"HBAR","v":38},{"t":34,"c":"HBAR","v":108},{"t":35,"c":"HBAR","v":140},{"t":36,"c":"HBAR","v":95},{"t":37,"c":"HBAR","v":140},{"t":38,"c":"HBAR","v":120},{"t":39,"c":"HBAR","v":88},{"t":40,"c":"HBAR","v":120},{"t":41,"c":"HBAR","v":92},
{"t":0,"c":"APT","v":10},{"t":1,"c":"APT","v":26},{"t":2,"c":"APT","v":46},{"t":3,"c":"APT","v":22},{"t":4,"c":"APT","v":40},{"t":5,"c":"APT","v":6},{"t":6,"c":"APT","v":4},{"t":7,"c":"APT","v":18},{"t":8,"c":"APT","v":14},{"t":9,"c":"APT","v":14},{"t":10,"c":"APT","v":22},{"t":11,"c":"APT","v":5},{"t":12,"c":"APT","v":8},{"t":13,"c":"APT","v":14},{"t":14,"c":"APT","v":14},{"t":15,"c":"APT","v":18},{"t":16,"c":"APT","v":22},{"t":17,"c":"APT","v":6},{"t":18,"c":"APT","v":6},{"t":19,"c":"APT","v":16},{"t":20,"c":"APT","v":8},{"t":21,"c":"APT","v":18},{"t":22,"c":"APT","v":30},{"t":23,"c":"APT","v":8},{"t":24,"c":"APT","v":22},{"t":25,"c":"APT","v":8},{"t":26,"c":"APT","v":20},{"t":27,"c":"APT","v":50},{"t":28,"c":"APT","v":12},{"t":29,"c":"APT","v":0},{"t":30,"c":"APT","v":50},{"t":31,"c":"APT","v":80},{"t":32,"c":"APT","v":14},{"t":33,"c":"APT","v":16},{"t":34,"c":"APT","v":50},{"t":35,"c":"APT","v":25},{"t":36,"c":"APT","v":20},{"t":37,"c":"APT","v":55},{"t":38,"c":"APT","v":72},{"t":39,"c":"APT","v":36},{"t":40,"c":"APT","v":72},{"t":41,"c":"APT","v":0},
{"t":0,"c":"UNI","v":8},{"t":1,"c":"UNI","v":14},{"t":2,"c":"UNI","v":14},{"t":3,"c":"UNI","v":8},{"t":4,"c":"UNI","v":10},{"t":5,"c":"UNI","v":8},{"t":6,"c":"UNI","v":10},{"t":7,"c":"UNI","v":10},{"t":8,"c":"UNI","v":10},{"t":9,"c":"UNI","v":10},{"t":10,"c":"UNI","v":8},{"t":11,"c":"UNI","v":6},{"t":12,"c":"UNI","v":6},{"t":13,"c":"UNI","v":8},{"t":14,"c":"UNI","v":8},{"t":15,"c":"UNI","v":12},{"t":16,"c":"UNI","v":5},{"t":17,"c":"UNI","v":4},{"t":18,"c":"UNI","v":5},{"t":19,"c":"UNI","v":10},{"t":20,"c":"UNI","v":8},{"t":21,"c":"UNI","v":14},{"t":22,"c":"UNI","v":8},{"t":23,"c":"UNI","v":4},{"t":24,"c":"UNI","v":20},{"t":25,"c":"UNI","v":6},{"t":26,"c":"UNI","v":16},{"t":27,"c":"UNI","v":24},{"t":28,"c":"UNI","v":10},{"t":29,"c":"UNI","v":10},{"t":30,"c":"UNI","v":20},{"t":31,"c":"UNI","v":20},{"t":32,"c":"UNI","v":20},{"t":33,"c":"UNI","v":34},{"t":34,"c":"UNI","v":50},{"t":35,"c":"UNI","v":55},{"t":36,"c":"UNI","v":22},{"t":37,"c":"UNI","v":50},{"t":38,"c":"UNI","v":50},{"t":39,"c":"UNI","v":50},{"t":40,"c":"UNI","v":40},{"t":41,"c":"UNI","v":14},
{"t":0,"c":"XLM","v":6},{"t":1,"c":"XLM","v":32},{"t":2,"c":"XLM","v":24},{"t":3,"c":"XLM","v":20},{"t":4,"c":"XLM","v":4},{"t":5,"c":"XLM","v":18},{"t":6,"c":"XLM","v":-8},{"t":7,"c":"XLM","v":5},{"t":8,"c":"XLM","v":5},{"t":9,"c":"XLM","v":4},{"t":10,"c":"XLM","v":3},{"t":11,"c":"XLM","v":3},{"t":12,"c":"XLM","v":5},{"t":13,"c":"XLM","v":8},{"t":14,"c":"XLM","v":-10},{"t":15,"c":"XLM","v":4},{"t":16,"c":"XLM","v":4},{"t":17,"c":"XLM","v":4},{"t":18,"c":"XLM","v":4},{"t":19,"c":"XLM","v":4},{"t":20,"c":"XLM","v":10},{"t":21,"c":"XLM","v":36},{"t":22,"c":"XLM","v":0},{"t":23,"c":"XLM","v":-12},{"t":24,"c":"XLM","v":2},{"t":25,"c":"XLM","v":8},{"t":26,"c":"XLM","v":10},{"t":27,"c":"XLM","v":88},{"t":28,"c":"XLM","v":18},{"t":29,"c":"XLM","v":0},{"t":30,"c":"XLM","v":12},{"t":31,"c":"XLM","v":50},{"t":32,"c":"XLM","v":2},{"t":33,"c":"XLM","v":2},{"t":34,"c":"XLM","v":28},{"t":35,"c":"XLM","v":45},{"t":36,"c":"XLM","v":34},{"t":37,"c":"XLM","v":115},{"t":38,"c":"XLM","v":80},{"t":39,"c":"XLM","v":52},{"t":40,"c":"XLM","v":85},{"t":41,"c":"XLM","v":38},
{"t":0,"c":"ORDI","v":8},{"t":1,"c":"ORDI","v":16},{"t":2,"c":"ORDI","v":16},{"t":3,"c":"ORDI","v":6},{"t":4,"c":"ORDI","v":6},{"t":5,"c":"ORDI","v":6},{"t":6,"c":"ORDI","v":8},{"t":7,"c":"ORDI","v":6},{"t":8,"c":"ORDI","v":5},{"t":9,"c":"ORDI","v":4},{"t":10,"c":"ORDI","v":4},{"t":11,"c":"ORDI","v":4},{"t":12,"c":"ORDI","v":5},{"t":13,"c":"ORDI","v":8},{"t":14,"c":"ORDI","v":6},{"t":15,"c":"ORDI","v":24},{"t":16,"c":"ORDI","v":14},{"t":17,"c":"ORDI","v":6},{"t":18,"c":"ORDI","v":6},{"t":19,"c":"ORDI","v":12},{"t":20,"c":"ORDI","v":12},{"t":21,"c":"ORDI","v":8},{"t":22,"c":"ORDI","v":10},{"t":23,"c":"ORDI","v":5},{"t":24,"c":"ORDI","v":25},{"t":25,"c":"ORDI","v":10},{"t":26,"c":"ORDI","v":10},{"t":27,"c":"ORDI","v":14},{"t":28,"c":"ORDI","v":4},{"t":29,"c":"ORDI","v":2},{"t":30,"c":"ORDI","v":20},{"t":31,"c":"ORDI","v":58},{"t":32,"c":"ORDI","v":20},{"t":33,"c":"ORDI","v":38},{"t":34,"c":"ORDI","v":30},{"t":35,"c":"ORDI","v":28},{"t":36,"c":"ORDI","v":42},{"t":37,"c":"ORDI","v":74},{"t":38,"c":"ORDI","v":72},{"t":39,"c":"ORDI","v":35},{"t":40,"c":"ORDI","v":48},{"t":41,"c":"ORDI","v":10},
{"t":0,"c":"ONDO","v":5},{"t":1,"c":"ONDO","v":14},{"t":2,"c":"ONDO","v":16},{"t":3,"c":"ONDO","v":10},{"t":4,"c":"ONDO","v":24},{"t":5,"c":"ONDO","v":6},{"t":6,"c":"ONDO","v":6},{"t":7,"c":"ONDO","v":18},{"t":8,"c":"ONDO","v":8},{"t":9,"c":"ONDO","v":6},{"t":10,"c":"ONDO","v":5},{"t":11,"c":"ONDO","v":4},{"t":12,"c":"ONDO","v":5},{"t":13,"c":"ONDO","v":7},{"t":14,"c":"ONDO","v":8},{"t":15,"c":"ONDO","v":8},{"t":16,"c":"ONDO","v":6},{"t":17,"c":"ONDO","v":6},{"t":18,"c":"ONDO","v":6},{"t":19,"c":"ONDO","v":8},{"t":20,"c":"ONDO","v":10},{"t":21,"c":"ONDO","v":8},{"t":22,"c":"ONDO","v":3},{"t":23,"c":"ONDO","v":8},{"t":24,"c":"ONDO","v":6},{"t":25,"c":"ONDO","v":6},{"t":26,"c":"ONDO","v":6},{"t":27,"c":"ONDO","v":8},{"t":28,"c":"ONDO","v":3},{"t":29,"c":"ONDO","v":2},{"t":30,"c":"ONDO","v":0},{"t":31,"c":"ONDO","v":75},{"t":32,"c":"ONDO","v":20},{"t":33,"c":"ONDO","v":2},{"t":34,"c":"ONDO","v":82},{"t":35,"c":"ONDO","v":105},{"t":36,"c":"ONDO","v":72},{"t":37,"c":"ONDO","v":100},{"t":38,"c":"ONDO","v":100},{"t":39,"c":"ONDO","v":82},{"t":40,"c":"ONDO","v":112},{"t":41,"c":"ONDO","v":72}
]},
"encoding":{
"x":{"field":"t","type":"ordinal","title":null,"scale":{"domain":[0,1,2,3,4,5,6,7,8,9,10,11,12,13,14,15,16,17,18,19,20,21,22,23,24,25,26,27,28,29,30,31,32,33,34,35,36,37,38,39,40,41],"paddingInner":0,"paddingOuter":0},"axis":{"values":[0,2,4,6,8,10,12,14,16,18,20,22,24,26,28,30,32,34,36,38,40],"labelExpr":"['22 Nov','23 Nov','24 Nov','24 Nov','25 Nov','26 Nov','26 Nov','27 Nov','28 Nov','28 Nov','29 Nov','30 Nov','30 Nov','1 Dec','2 Dec','2 Dec','3 Dec','4 Dec','4 Dec','5 Dec','6 Dec'][datum.value/2]","labelAngle":0,"labelFontSize":9,"labelColor":"#9b9da3","labelFont":"Roboto","labelPadding":5,"ticks":false,"domain":false,"grid":false,"labelOverlap":false}},
"y":{"field":"c","type":"nominal","title":null,"scale":{"domain":["BTC","ETH","SOL","DOGE","XRP","BNB","ADA","SUI","1000PEPE","WIF","LTC","LINK","WLD","AVAX","1000BONK","DOT","NEAR","ENA","FTM","FIL","BCH","TIA","TRX","PNUT","HBAR","APT","UNI","XLM","ORDI","ONDO"],"paddingInner":0,"paddingOuter":0},"axis":{"labelFontSize":9,"labelColor":"#9b9da3","labelFont":"Roboto","labelPadding":6,"ticks":false,"domain":false,"grid":false,"labelOverlap":false}}
},
"layer":[
{"mark":{"type":"rect","opacity":1},"encoding":{"color":{"field":"v","type":"quantitative","scale":{"interpolate":"rgb","domain":[-150,-110,-63,-30,0,20,40,60,75,90,100,125,150],"range":["#450f5c","#472d7b","#3b528b","#2c728e","#299c7e","#33a66e","#46b564","#5cc15a","#9fc547","#e2c033","#fcc02f","#fbaa2c","#fc8424"]},"legend":{"type":"gradient","orient":"none","legendX":321,"legendY":395.3,"direction":"horizontal","gradientLength":222,"gradientThickness":23,"title":null,"values":[-150,150],"labelExpr":"''","labelFontSize":9,"padding":0,"labelOverlap":false}}}},
{"mark":{"type":"rect","filled":false,"strokeWidth":0.5,"opacity":1},"encoding":{"color":{"field":"v","type":"quantitative","legend":null,"scale":{"interpolate":"rgb","domain":[-150,-110,-63,-30,0,20,40,60,75,90,100,125,150],"range":["#450f5c","#472d7b","#3b528b","#2c728e","#299c7e","#33a66e","#46b564","#5cc15a","#9fc547","#e2c033","#fcc02f","#fbaa2c","#fc8424"]}}}},
{"data":{"values":[{"series":"APR","t":20,"c":"BTC"},{"series":"BTC Price","t":20,"c":"BTC"}]},"mark":{"type":"point","size":0,"filled":true,"opacity":1,"shape":"square"},"encoding":{"color":{"field":"series","type":"nominal","scale":{"domain":["APR","BTC Price"],"range":["#2ebd6e","#cccccc"]},"legend":{"orient":"none","legendX":386,"legendY":-25.5,"direction":"horizontal","columns":2,"title":null,"symbolType":"square","symbolSize":45,"symbolOpacity":1,"labelFontSize":9,"labelColor":"#c8c8c8","labelFont":"Roboto","padding":0,"columnPadding":6}}}},
{"data":{"values":[{"t":14,"c":"ONDO","label":"-150.00% APR"}]},"mark":{"type":"text","dx":3,"dy":56.5,"fontSize":9,"font":"Roboto","color":"#9b9da3"},"encoding":{"text":{"field":"label"}}},
{"data":{"values":[{"t":24,"c":"ONDO","label":"150.00% APR"}]},"mark":{"type":"text","dx":5.7,"dy":56.5,"fontSize":9,"font":"Roboto","color":"#9b9da3"},"encoding":{"text":{"field":"label"}}},
{"data":{"values":[{"t":33,"c":"BTC","label":"Color Slider"}]},"mark":{"type":"text","dx":-14,"dy":-67,"fontSize":9.5,"font":"Roboto","color":"#8e9096"},"encoding":{"text":{"field":"label"}}},
{"data":{"values":[{"t":37,"c":"BTC","label":"Open Interest"}]},"mark":{"type":"text","dx":-11,"dy":-61,"fontSize":10.5,"font":"Inter","color":"#d8d8da"},"encoding":{"text":{"field":"label"}}},
{"data":{"values":[{"t":40,"c":"BTC","label":"2 week"}]},"mark":{"type":"text","dx":10.5,"dy":-61,"fontSize":10,"font":"Inter","color":"#d8d8da"},"encoding":{"text":{"field":"label"}}},
{"data":{"values":[{"t":37,"c":"BTC","item":"box"}]},"mark":{"type":"point","filled":false,"stroke":"#2b2d33","strokeWidth":1,"opacity":1,"size":8281,"xOffset":-4.9,"yOffset":-61,"shape":"M-.95,-.264H.95Q1,-.264 1,-.2V.2Q1,.264 .95,.264H-.95Q-1,.264 -1,.2V-.2Q-1,-.264 -.95,-.264Z"}},
{"data":{"values":[{"t":40,"c":"BTC","item":"box"}]},"mark":{"type":"point","filled":false,"stroke":"#2b2d33","strokeWidth":1,"opacity":1,"size":3600,"xOffset":17,"yOffset":-61,"shape":"M-.92,-.4H.92Q1,-.4 1,-.3V.3Q1,.4 .92,.4H-.92Q-1,.4 -1,.3V-.3Q-1,-.4 -.92,-.4Z"}},
{"data":{"values":[{"t":37,"c":"BTC","item":"chevrons"}]},"mark":{"type":"point","filled":false,"stroke":"#c8c8cc","strokeWidth":1,"opacity":1,"size":100,"xOffset":28.6,"yOffset":-61,"shape":"M-.5,-.3L0,-.8L.5,-.3M-.5,.3L0,.8L.5,.3"}},
{"data":{"values":[{"t":40,"c":"BTC","item":"chevrons"}]},"mark":{"type":"point","filled":false,"stroke":"#c8c8cc","strokeWidth":1,"opacity":1,"size":100,"xOffset":35.7,"yOffset":-61,"shape":"M-.5,-.3L0,-.8L.5,-.3M-.5,.3L0,.8L.5,.3"}},
{"data":{"values":[{"t":33,"c":"BTC","item":"track"}]},"mark":{"type":"point","filled":true,"color":"#26282c","opacity":1,"size":5476,"xOffset":-13.6,"yOffset":-53,"shape":"M-1,-.035H1V.035H-1Z"}},
{"data":{"values":[{"t":33,"c":"BTC","item":"slider"}]},"mark":{"type":"point","filled":true,"color":"#2a5fc4","opacity":1,"size":2401,"xOffset":-26,"yOffset":-53,"shape":"M-1,-.06H1V.06H-1Z"}},
{"data":{"values":[{"t":33,"c":"BTC","item":"knob"}]},"mark":{"type":"point","filled":true,"fill":"#ffffff","stroke":"#2a5fc4","strokeWidth":1.5,"opacity":1,"size":50,"xOffset":-1.6,"yOffset":-53,"shape":"circle"}},
{"data":{"values":[{"t":14,"c":"ONDO","item":"handle"}]},"mark":{"type":"point","filled":true,"fill":"#5a2c6e","fillOpacity":0.6,"stroke":"#c9b9cf","strokeWidth":1.2,"size":529,"xOffset":3,"yOffset":35.3,"shape":"M-.26,-.8Q-.26,-1 0,-1Q.26,-1 .26,-.8V.8Q.26,1 0,1Q-.26,1 -.26,.8Z"}},
{"data":{"values":[{"t":24,"c":"ONDO","item":"handle"}]},"mark":{"type":"point","filled":true,"fill":"#fc9a4c","fillOpacity":0.8,"stroke":"#fdd9bd","strokeWidth":1.2,"size":529,"xOffset":5.7,"yOffset":35.3,"shape":"M-.26,-.8Q-.26,-1 0,-1Q.26,-1 .26,-.8V.8Q.26,1 0,1Q-.26,1 -.26,.8Z"}},
{"data":{"values":[{"t":38,"c":"UNI","label":"coinglass"}]},"mark":{"type":"text","dx":5,"dy":3,"fontSize":12.5,"font":"Roboto","fontWeight":500,"color":"#ffffff","opacity":0.78},"encoding":{"text":{"field":"label"}}},
{"data":{"values":[{"t":37,"c":"UNI","item":"logo"}]},"mark":{"type":"point","filled":true,"color":"#ffffff","opacity":0.78,"size":324,"xOffset":-11.5,"yOffset":3,"shape":"M-.9,-.8L-.4,-1L.4,-.8L.9,-.9L.75,-.2L.35,.3L.3,.9L-.2,1L-.4,.4L-.8,-.1Z"}}
],
"resolve":{"scale":{"color":"independent"}}}
